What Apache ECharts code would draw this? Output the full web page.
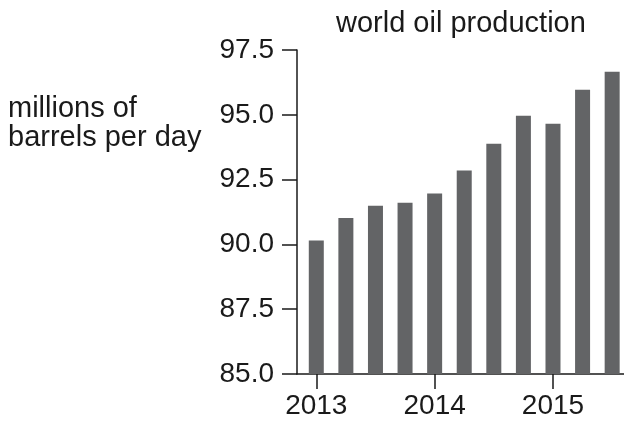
<!DOCTYPE html>
<html>
<head>
<meta charset="utf-8">
<script src="https://cdn.jsdelivr.net/npm/echarts@6/dist/echarts.min.js"></script>
<style>
html,body{margin:0;padding:0;background:#fff;}
#chart{width:624px;height:423px;}
</style>
</head>
<body>
<div id="chart"></div>
<script>
// Quarterly periods (decimal years) and world oil production (millions of barrels per day)
var periods = [2013, 2013.25, 2013.5, 2013.75, 2014, 2014.25, 2014.5, 2014.75, 2015, 2015.25, 2015.5];
var production = [90.15, 91.02, 91.49, 91.61, 91.96, 92.85, 93.88, 94.96, 94.65, 95.97, 96.66];
var yearTicks = [2013, 2014, 2015];
var titleText = 'world oil production';
var yName = 'millions of\nbarrels per day';

var ink = '#1a1a1a';
var font = 'Liberation Sans, Arial, Helvetica, sans-serif';
var chart = echarts.init(document.getElementById('chart'), null, {renderer: 'canvas'});
chart.setOption({
  animation: false,
  backgroundColor: '#fff',
  title: [
    {text: titleText, left: 331, top: 4, padding: 5,
     textStyle: {fontSize: 29, fontWeight: 'normal', color: ink, fontFamily: font}},
    {text: yName, left: 3, top: 89, padding: 5,
     textStyle: {fontSize: 29, fontWeight: 'normal', color: ink, fontFamily: font, lineHeight: 29}}
  ],
  grid: {left: 297, right: 0, top: 50, bottom: 49, containLabel: false, outerBoundsMode: 'none'},
  xAxis: {
    type: 'value', min: 2012.837, max: 2015.6,
    axisLine: {show: true, lineStyle: {color: ink, width: 1.5}},
    axisTick: {show: true, customValues: yearTicks, length: 15, lineStyle: {color: ink, width: 1.5}},
    axisLabel: {customValues: yearTicks, margin: 18, fontSize: 28, color: ink, fontFamily: font,
                formatter: function (v) { return String(Math.round(v)); }},
    splitLine: {show: false}
  },
  yAxis: {
    type: 'value', min: 85, max: 97.5, interval: 2.5,
    axisLine: {show: true, lineStyle: {color: ink, width: 1.5}},
    axisTick: {show: true, length: 15, lineStyle: {color: ink, width: 1.5}},
    axisLabel: {margin: 23, fontSize: 28, color: ink, fontFamily: font,
                formatter: function (v) { return v.toFixed(1); }},
    splitLine: {show: false}
  },
  series: [{
    type: 'bar',
    data: periods.map(function (p, i) { return [p, production[i]]; }),
    barWidth: 15,
    itemStyle: {color: '#636466'}
  }]
});
</script>
</body>
</html>
